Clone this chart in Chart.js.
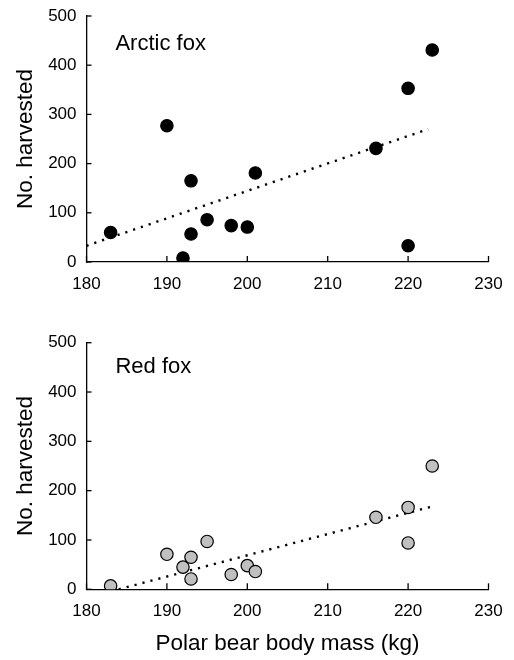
<!DOCTYPE html>
<html>
<head>
<meta charset="utf-8">
<script src="https://cdn.jsdelivr.net/npm/chart.js@4.4.1/dist/chart.umd.min.js"></script>
<style>
    html, body { margin: 0; padding: 0; background: #fff; }
    #arcticBox { position: absolute; left: 0; top: 0; width: 514px; height: 300px; }
    #redBox { position: absolute; left: 0; top: 300px; width: 514px; height: 360px; }
</style>
</head>
<body>
<div id="arcticBox"><canvas id="arctic" width="514" height="300"></canvas></div>
<div id="redBox"><canvas id="red" width="514" height="360"></canvas></div>
<script>
// polar bear body mass (kg) per year
const massArctic = [183, 190, 192, 193, 193, 195, 198, 200, 201, 216, 220, 220, 223];
const harvestArctic = [60, 277, 8, 165, 57, 86, 74, 71, 181, 231, 353, 33, 431];
const massRed = [183, 190, 192, 193, 193, 195, 198, 200, 201, 216, 220, 220, 223];
const harvestRed = [7, 71, 45, 65, 21, 97, 30, 48, 36, 146, 166, 94, 250];

// regression line end points
const trendArcticX = [180, 222.5];
const trendArcticY = [33, 270];
const trendRedX = [184, 223];
const trendRedY = [0, 168];

const xTicks = [180, 190, 200, 210, 220, 230];
const yTicks = [0, 100, 200, 300, 400, 500];

const FONT = "'Liberation Sans', Arial, Helvetica, sans-serif";

function toPoints(xs, ys) {
    return xs.map((x, i) => ({ x: x, y: ys[i] }));
}

// ticks point into the plot, plus the panel label
const innerTicks = {
    id: 'innerTicks',
    afterDraw(chart, args, opts) {
        const ctx = chart.ctx;
        const x = chart.scales.x;
        const y = chart.scales.y;
        const area = chart.chartArea;
        ctx.save();
        ctx.strokeStyle = '#000';
        ctx.lineWidth = 1.3;
        xTicks.forEach(v => {
            const px = x.getPixelForValue(v);
            ctx.beginPath();
            ctx.moveTo(px, area.bottom);
            ctx.lineTo(px, area.bottom - 6);
            ctx.stroke();
        });
        yTicks.forEach(v => {
            const py = y.getPixelForValue(v);
            ctx.beginPath();
            ctx.moveTo(area.left, py);
            ctx.lineTo(area.left + 5, py);
            ctx.stroke();
        });
        ctx.fillStyle = '#000';
        ctx.font = '22px ' + FONT;
        ctx.textAlign = 'left';
        ctx.textBaseline = 'alphabetic';
        ctx.fillText(opts.text, x.getPixelForValue(opts.x), y.getPixelForValue(opts.y));
        ctx.restore();
    }
};

function makeChart(id, label, xs, ys, tx, ty, fill, labelY, topPad, bottomH, showTitle) {
    const ctx = document.getElementById(id).getContext('2d');
    return new Chart(ctx, {
        type: 'scatter',
        data: {
            datasets: [
                {
                    label: label,
                    data: toPoints(xs, ys),
                    backgroundColor: fill,
                    borderColor: '#000',
                    borderWidth: 1.2,
                    pointRadius: 6.2,
                },
                {
                    label: 'trend',
                    data: toPoints(tx, ty),
                    showLine: true,
                    pointRadius: 0,
                    borderColor: '#000',
                    borderWidth: 2.4,
                    borderDash: [2.2, 6],
                }
            ]
        },
        options: {
            responsive: false,
            animation: false,
            layout: {
                padding: { top: topPad, right: 25.5, left: 0, bottom: 0 }
            },
            scales: {
                x: {
                    type: 'linear',
                    min: 180,
                    max: 230,
                    afterFit: s => {
                        s.height = bottomH;
                        s.paddingLeft = 0;
                        s.paddingRight = 0;
                    },
                    afterBuildTicks: s => { s.ticks = xTicks.map(v => ({ value: v })); },
                    grid: { display: false, drawTicks: false },
                    border: { display: true, color: '#000', width: 1.3 },
                    ticks: {
                        color: '#000',
                        padding: 12,
                        maxRotation: 0,
                        font: { family: FONT, size: 17 }
                    },
                    title: {
                        display: showTitle,
                        text: 'Polar bear body mass (kg)',
                        color: '#000',
                        padding: { top: 0, bottom: 3 },
                        font: { family: FONT, size: 22.5 }
                    }
                },
                y: {
                    min: 0,
                    max: 500,
                    afterFit: s => {
                        s.width = 86.5;
                        s.paddingTop = 0;
                        s.paddingBottom = 0;
                    },
                    afterBuildTicks: s => { s.ticks = yTicks.map(v => ({ value: v })); },
                    grid: { display: false, drawTicks: false },
                    border: { display: true, color: '#000', width: 1.3 },
                    ticks: {
                        color: '#000',
                        padding: 10,
                        font: { family: FONT, size: 17 }
                    },
                    title: {
                        display: true,
                        text: 'No. harvested',
                        color: '#000',
                        padding: { top: 12, bottom: 0 },
                        font: { family: FONT, size: 22.5 }
                    }
                }
            },
            plugins: {
                legend: { display: false },
                tooltip: { enabled: false },
                innerTicks: { text: label, x: 183.6, y: labelY }
            }
        },
        plugins: [innerTicks]
    });
}

makeChart('arctic', 'Arctic fox', massArctic, harvestArctic, trendArcticX, trendArcticY, '#000', 431, 16, 38, false);
makeChart('red', 'Red fox', massRed, harvestRed, trendRedX, trendRedY, '#c0c0c0', 438, 42.7, 70.7, true);
</script>
</body>
</html>
